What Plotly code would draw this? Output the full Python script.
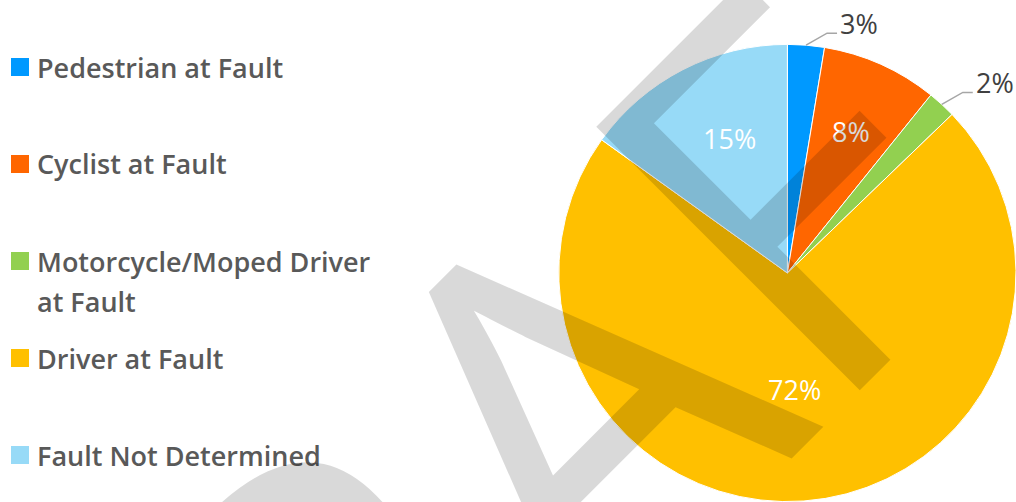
import math
import plotly.graph_objects as go

# ---------------- data ----------------
categories = ["Pedestrian at Fault", "Cyclist at Fault",
              "Motorcycle/Moped Driver at Fault", "Driver at Fault",
              "Fault Not Determined"]
legend_lines = [["Pedestrian at Fault"], ["Cyclist at Fault"],
                ["Motorcycle/Moped Driver", "at Fault"], ["Driver at Fault"],
                ["Fault Not Determined"]]
shares = [2.6, 8.2, 2.0, 72.1, 15.1]
colors = ["#0099FF", "#FF6600", "#92D050", "#FFC000", "#97DAF7"]
watermark_text = "DRAF\u2009T"

# ---------------- layout geometry (style) ----------------
W, H = 1016, 502
dom_x = [0.55, 1.0]
dom_y = [0.0, 0.9124]
cx = W * (dom_x[0] + dom_x[1]) / 2
cy = H * (1 - (dom_y[0] + dom_y[1]) / 2)
R = min(W * (dom_x[1] - dom_x[0]), H * (dom_y[1] - dom_y[0])) / 2

FONT = "Open Sans"
TXT = "#595959"

def px(x):
    return x / W

def py(y):
    return 1 - y / H

fig = go.Figure()
fig.add_trace(go.Pie(
    labels=categories, values=shares, sort=False, direction="clockwise",
    rotation=0, marker=dict(colors=colors, line=dict(color="white", width=1)),
    textinfo="none", hoverinfo="label+percent", showlegend=False,
    domain=dict(x=dom_x, y=dom_y),
))

annotations = []
shapes = []

# data labels
total = sum(shares)
label_style = {0: ("out",), 1: ("in", 0.68, 0.0), 2: ("out",),
               3: ("in", 0.51, 0.5), 4: ("in", 0.64, 4.0)}
cum = 0.0
for i, v in enumerate(shares):
    a0 = 360 * cum / total
    cum += v
    a1 = 360 * cum / total
    mid = (a0 + a1) / 2
    pct = f"{round(v / total * 100)}%"
    st = label_style[i]
    if st[0] == "in":
        ang = math.radians(mid + st[2])
        x = cx + st[1] * R * math.sin(ang)
        y = cy - st[1] * R * math.cos(ang)
        annotations.append(dict(x=px(x), y=py(y), xref="paper", yref="paper",
                                text=pct, showarrow=False, xanchor="center", yanchor="middle",
                                font=dict(family=FONT, size=27, color="white")))
    else:
        ang = math.radians(mid)
        x0 = cx + R * math.sin(ang)
        y0 = cy - R * math.cos(ang)
        x1, y1 = x0 + 21, y0 - 12
        x2 = x1 + 10
        shapes.append(dict(type="path", xref="paper", yref="paper",
                           path=f"M{px(x0)},{py(y0)} L{px(x1)},{py(y1)} L{px(x2)},{py(y1)}",
                           line=dict(color="#A6A6A6", width=1.5)))
        annotations.append(dict(x=px(x2 + 1), y=py(y1 - 10), xref="paper", yref="paper",
                                text=pct, showarrow=False, xanchor="left", yanchor="middle",
                                font=dict(family=FONT, size=27, color="#404040")))

# manual legend
for i, lines in enumerate(legend_lines):
    yc = 67 + 97 * i
    shapes.append(dict(type="rect", xref="paper", yref="paper",
                       x0=px(11), x1=px(29), y0=py(yc - 9), y1=py(yc + 9),
                       fillcolor=colors[i], line=dict(width=0)))
    for k, t in enumerate(lines):
        annotations.append(dict(x=px(35), y=py(yc + 40 * k), xref="paper", yref="paper",
                                text=t, showarrow=False, xanchor="left", yanchor="middle",
                                font=dict(family=FONT, size=27, color=TXT, weight=600)))

# watermark
annotations.append(dict(x=px(543), y=py(420), xref="paper", yref="paper",
                        text=watermark_text, showarrow=False, textangle=-45,
                        xanchor="center", yanchor="middle",
                        font=dict(family=FONT, size=522, color="rgba(0,0,0,0.15)")))

fig.update_layout(
    width=W, height=H, margin=dict(l=0, r=0, t=0, b=0),
    paper_bgcolor="white", plot_bgcolor="white",
    annotations=annotations, shapes=shapes,
    font=dict(family=FONT, color=TXT),
)

fig.write_html("out.html", config={"displayModeBar": False},
               post_script="document.body.style.margin='0';document.body.style.overflow='hidden';")
